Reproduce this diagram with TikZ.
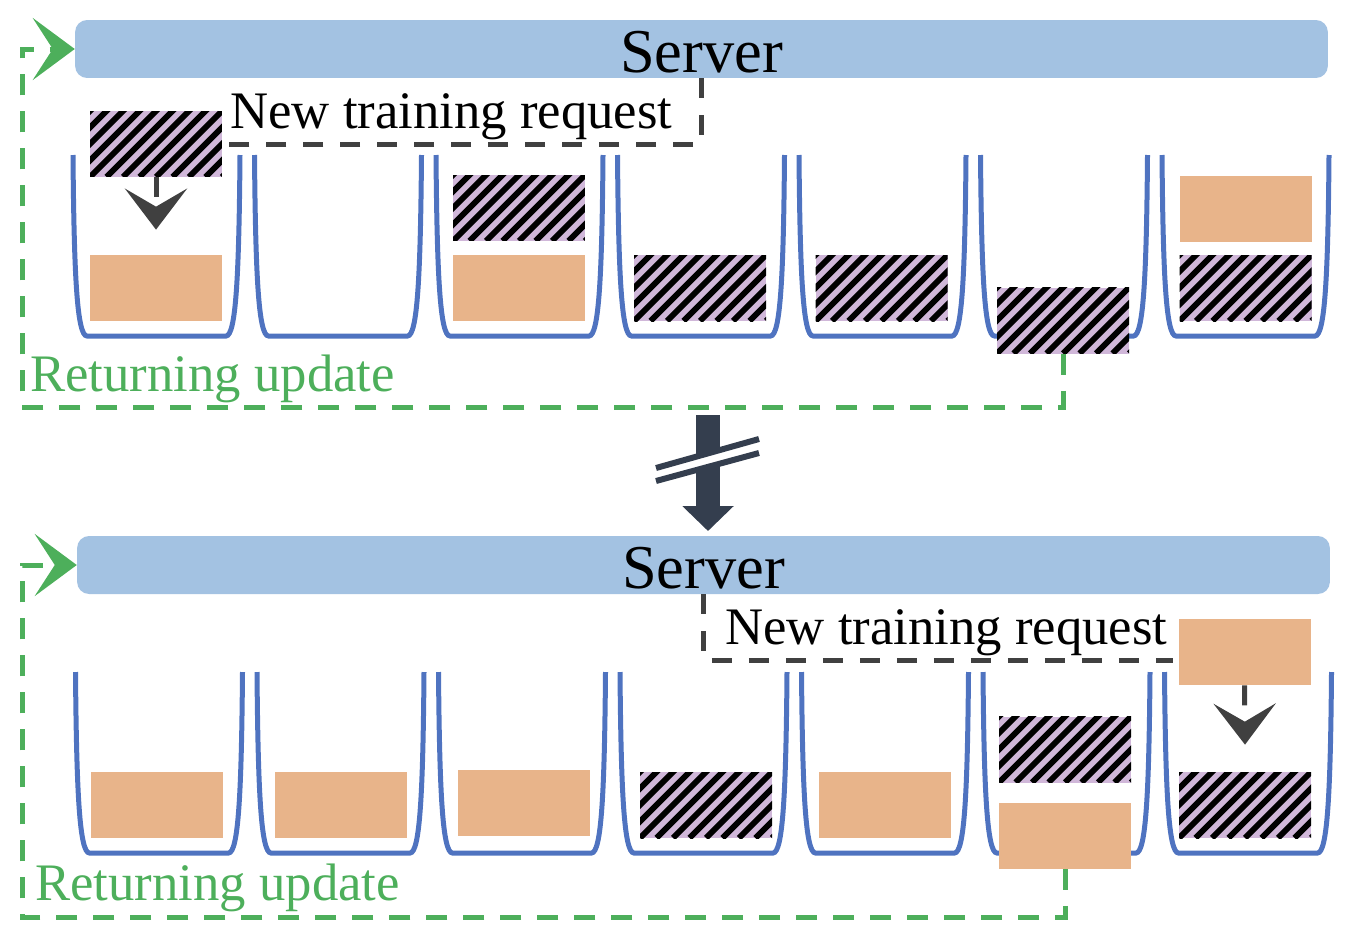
\documentclass[tikz,border=0pt]{standalone}
\usepackage{fontspec}
\setmainfont{Liberation Serif}
\usepackage{xcolor}
\usepackage{tikz}
\usetikzlibrary{arrows.meta, positioning, calc}

\definecolor{srvblue}{HTML}{A3C2E2}
\definecolor{blkorange}{HTML}{E8B48A}
\definecolor{blkpurple}{HTML}{D0B7D9}
\definecolor{bucketblue}{HTML}{4F73C0}
\definecolor{updgreen}{HTML}{4DAF5B}
\definecolor{reqgray}{HTML}{404040}
\definecolor{arrdark}{HTML}{343E4E}

\begin{document}
\begin{tikzpicture}[x=0.02cm, y=-0.02cm,
    srv/.style={fill=srvblue, rounded corners=0.24cm, minimum width=25.06cm,
        minimum height=1.16cm, inner sep=0, text height=0.97cm,
        font=\fontsize{35.5}{41}\selectfont},
    oblk/.style={fill=blkorange, minimum width=2.64cm, minimum height=1.32cm, inner sep=0},
    hblk/.style={oblk, fill=blkpurple,
        path picture={
            \foreach \k in {-5,...,9}
                \draw[black, line width=0.117cm]
                    ([xshift=\k*0.33cm]path picture bounding box.south west) -- ++(45:4cm);
        }},
    lab/.style={font=\fontsize{30}{35}\selectfont, inner sep=0, anchor=base west},
    bucket/.style={draw=bucketblue, line width=0.1cm},
    reqline/.style={draw=reqgray, line width=0.1cm, dash pattern=on 0.4cm off 0.34cm},
    reqarr/.style={reqline, -{Stealth[length=0.82cm, width=1.24cm, inset=0.36cm]}},
    updline/.style={draw=updgreen, line width=0.1cm, dash pattern=on 0.42cm off 0.32cm,
        -{Stealth[length=0.84cm, width=1.24cm, inset=0.4cm]}}]
    \useasboundingbox (0,0) rectangle (1354,930);

    % 服务器
    \node[srv] (srvA) at (701.5,49) {Server};
    \node[srv] (srvB) at (703.5,565) {Server};

    % 客户端 (上下两行)
    \foreach \i in {0,...,6} {
        \pgfmathsetmacro\bl{73+181.5*\i}
        \draw[bucket] (\bl,155) .. controls (\bl+1,275) and (\bl+4,336) .. (\bl+14,336)
            -- (\bl+153,336) .. controls (\bl+163,336) and (\bl+166,275) .. (\bl+167,155);
        \pgfmathsetmacro\bm{75.5+181.5*\i}
        \draw[bucket] (\bm,672) .. controls (\bm+1,792) and (\bm+4,853) .. (\bm+14,853)
            -- (\bm+153,853) .. controls (\bm+163,853) and (\bm+166,792) .. (\bm+167,672);
    }

    % 上行的任务
    \node[hblk] (newA) at (156,144) {};
    \node[oblk] (a1) at (156,288) {};
    \node[hblk] (a3u) at (519,208) {};
    \node[oblk] (a3) at (519,288) {};
    \node[hblk] (a4) at (700,288) {};
    \node[hblk] (a5) at (881.5,288) {};
    \node[hblk] (a6) at (1063,320.5) {};
    \node[oblk] (a7u) at (1245.5,209) {};
    \node[hblk] (a7) at (1245.5,288) {};

    % 下行的任务
    \node[oblk] (newB) at (1244.5,652) {};
    \node[oblk] (b1) at (157,805) {};
    \node[oblk] (b2) at (341,805) {};
    \node[oblk] (b3) at (524,803) {};
    \node[hblk] (b4) at (706,805) {};
    \node[oblk] (b5) at (885,805) {};
    \node[hblk] (b6u) at (1065,749.5) {};
    \node[oblk] (b6) at (1065,835.5) {};
    \node[hblk] (b7) at (1245,805) {};

    % 文字
    \node[lab] (reqA) at (230,128) {New training request};
    \node[lab] (reqB) at (725,644) {New training request};
    \node[lab, text=updgreen] (retA) at (30,391) {Returning update};
    \node[lab, text=updgreen] (retB) at (35,900) {Returning update};

    % 新请求
    \draw[reqline] (srvA.south) |- (newA.east);
    \draw[reqarr] (newA.south) -- ([yshift=0.5cm]a1.north);
    \draw[reqline] (srvB.south) |- ([yshift=-0.16cm, xshift=-0.1cm]newB.west);
    \draw[reqarr] (newB.south) -- ([yshift=0.54cm]b7.north);

    % 返回更新
    \coordinate (turnA) at (22,407);
    \coordinate (turnB) at (22,917);
    \draw[updline] (a6.south) |- (turnA) |- (srvA.west);
    \draw[updline] (b6.south) |- (turnB) |- (srvB.west);

    % 中间的箭头
    \coordinate (cutTop) at (708,415);
    \coordinate (cutEnd) at (708,531);
    \draw[arrdark, line width=0.48cm, -{Triangle[length=0.5cm, width=1.0cm]}] (cutTop) -- (cutEnd);
    \fill[white] (656,468) -- (759,439) -- (759,453) -- (656,481) -- cycle;
    \draw[arrdark, line width=0.12cm] (656,468) -- (759,439) (656,481) -- (759,453);
\end{tikzpicture}
\end{document}
